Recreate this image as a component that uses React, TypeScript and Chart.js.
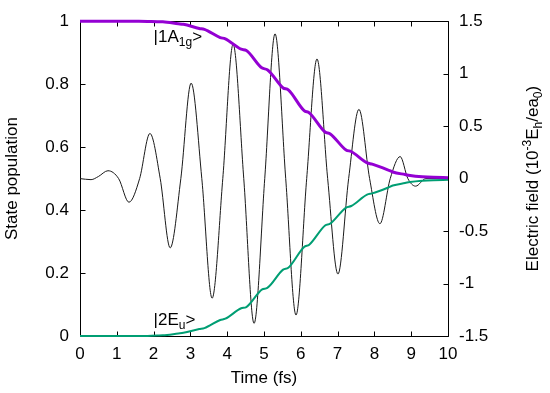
import React, { useEffect, useRef } from 'react';
import { Chart, registerables } from 'chart.js';

Chart.register(...registerables);

const timeTicks = [0, 1, 2, 3, 4, 5, 6, 7, 8, 9, 10];
const popTicks = [0, 0.2, 0.4, 0.6, 0.8, 1];
const fieldTicks = [-1.5, -1, -0.5, 0, 0.5, 1, 1.5];

// Electric field (10^-3 Eh/ea0), right axis
const fieldTime = [0, 0.3, 0.5, 0.76, 1.05, 1.33, 1.62, 1.9, 2.18, 2.45, 2.74, 3.02, 3.31, 3.59, 3.88, 4.16, 4.45, 4.73, 5.02, 5.3, 5.59, 5.87, 6.16, 6.44, 6.73, 7.01, 7.3, 7.58, 7.87, 8.15, 8.43, 8.7, 8.91, 9.12, 9.4, 9.7, 10];
const fieldValue = [0, -0.01, 0.02, 0.075, 0, -0.225, 0, 0.43, 0, -0.66, 0, 0.91, 0, -1.14, 0, 1.28, 0, -1.38, 0, 1.38, 0, -1.3, 0, 1.14, 0, -0.91, 0, 0.66, 0, -0.43, 0, 0.21, 0, -0.072, 0, 0, 0];

// |1A1g> population
const groundTime = [0, 1.6, 2.1, 2.25, 2.67, 2.81, 3.24, 3.38, 3.81, 3.95, 4.38, 4.52, 4.95, 5.09, 5.52, 5.66, 6.09, 6.23, 6.66, 6.8, 7.23, 7.37, 7.8, 7.94, 8.36, 8.5, 8.83, 8.97, 9.3, 9.6, 10];
const groundPop = [1, 1, 0.9985, 0.998, 0.992, 0.99, 0.977, 0.974, 0.948, 0.944, 0.911, 0.907, 0.851, 0.846, 0.788, 0.782, 0.716, 0.709, 0.648, 0.642, 0.591, 0.586, 0.55, 0.546, 0.528, 0.521, 0.513, 0.51, 0.506, 0.504, 0.503];

// |2Eu> population
const excitedTime = [0, 1.6, 2.1, 2.25, 2.67, 2.81, 3.24, 3.38, 3.81, 3.95, 4.38, 4.52, 4.95, 5.09, 5.52, 5.66, 6.09, 6.23, 6.66, 6.8, 7.23, 7.37, 7.8, 7.94, 8.36, 8.5, 8.83, 8.97, 9.3, 9.6, 10];
const excitedPop = [0, 0, 0.0015, 0.002, 0.008, 0.01, 0.022, 0.025, 0.051, 0.055, 0.088, 0.092, 0.148, 0.153, 0.211, 0.217, 0.283, 0.29, 0.351, 0.357, 0.408, 0.413, 0.449, 0.453, 0.471, 0.478, 0.486, 0.489, 0.493, 0.495, 0.496];

const FAMILY = '"Liberation Sans", Arial, Helvetica, sans-serif';
const FS = 17;
const SUB = 12;

type Part = { t: string; size: number; dy: number };

function richWidth(ctx: CanvasRenderingContext2D, parts: Part[]) {
  let w = 0;
  for (const p of parts) {
    ctx.font = `${p.size}px ${FAMILY}`;
    w += ctx.measureText(p.t).width;
  }
  return w;
}

function drawRich(ctx: CanvasRenderingContext2D, parts: Part[], x: number, y: number) {
  let cx = x;
  ctx.textBaseline = 'alphabetic';
  ctx.textAlign = 'left';
  for (const p of parts) {
    ctx.font = `${p.size}px ${FAMILY}`;
    ctx.fillText(p.t, cx, y + p.dy);
    cx += ctx.measureText(p.t).width;
  }
}

const frameBelow = {
  id: 'frameBelow',
  beforeDatasetsDraw(chart: any) {
    const { ctx, chartArea, scales } = chart;
    const { left, right, top, bottom } = chartArea;
    ctx.save();
    ctx.strokeStyle = '#000';
    ctx.lineWidth = 1;
    ctx.beginPath();
    const l = Math.round(left) + 0.5;
    const r = Math.round(right) + 0.5;
    const t = Math.round(top) + 0.5;
    const b = Math.round(bottom) + 0.5;
    ctx.rect(l, t, r - l, b - t);
    const L = 5;
    for (const v of timeTicks) {
      const x = Math.round(scales.x.getPixelForValue(v)) + 0.5;
      ctx.moveTo(x, b);
      ctx.lineTo(x, b - L);
      ctx.moveTo(x, t);
      ctx.lineTo(x, t + L);
    }
    for (const v of popTicks) {
      const y = Math.round(scales.y.getPixelForValue(v)) + 0.5;
      ctx.moveTo(l, y);
      ctx.lineTo(l + L, y);
    }
    for (const v of fieldTicks) {
      const y = Math.round(scales.y2.getPixelForValue(v)) + 0.5;
      ctx.moveTo(r, y);
      ctx.lineTo(r - L, y);
    }
    ctx.stroke();
    ctx.restore();
  },
  afterDraw(chart: any) {
    const { ctx, chartArea, scales } = chart;
    ctx.save();
    ctx.fillStyle = '#000';
    // state labels
    const gx = scales.x.getPixelForValue(2.0);
    const gy = scales.y.getPixelForValue(0.935);
    drawRich(ctx, [
      { t: '|1A', size: FS, dy: 0 },
      { t: '1g', size: SUB, dy: 4 },
      { t: '>', size: FS, dy: 0 },
    ], gx, gy);
    const ey = scales.y.getPixelForValue(0.034);
    drawRich(ctx, [
      { t: '|2E', size: FS, dy: 0 },
      { t: 'u', size: SUB, dy: 4 },
      { t: '>', size: FS, dy: 0 },
    ], gx, ey);
    // right axis title
    const parts: Part[] = [
      { t: 'Electric field (10', size: FS, dy: 0 },
      { t: '-3', size: SUB, dy: -7 },
      { t: 'E', size: FS, dy: 0 },
      { t: 'h', size: SUB, dy: 4 },
      { t: '/ea', size: FS, dy: 0 },
      { t: '0', size: SUB, dy: 4 },
      { t: ')', size: FS, dy: 0 },
    ];
    const w = richWidth(ctx, parts);
    const cy = (chartArea.top + chartArea.bottom) / 2;
    ctx.translate(538, cy);
    ctx.rotate(-Math.PI / 2);
    drawRich(ctx, parts, -w / 2, 0);
    ctx.restore();
  },
};

export default function App() {
  const ref = useRef<HTMLCanvasElement>(null);
  useEffect(() => {
    document.body.style.margin = '0';
    const canvas = ref.current!;
    const tickFont = { family: FAMILY, size: FS };
    const noGrid = { display: false, drawTicks: false, tickLength: 0 };
    const chart = new Chart(canvas, {
      type: 'line',
      data: {
        datasets: [
          {
            label: 'Electric field',
            data: fieldTime.map((t, i) => ({ x: t, y: fieldValue[i] })),
            yAxisID: 'y2',
            borderColor: '#1a1a1a',
            borderWidth: 1,
            pointRadius: 0,
            cubicInterpolationMode: 'monotone',
            fill: false,
            order: 3,
          },
          {
            label: '|1A1g>',
            data: groundTime.map((t, i) => ({ x: t, y: groundPop[i] })),
            yAxisID: 'y',
            borderColor: '#9400d3',
            borderWidth: 3,
            pointRadius: 0,
            cubicInterpolationMode: 'monotone',
            fill: false,
            clip: 6,
            order: 1,
          },
          {
            label: '|2Eu>',
            data: excitedTime.map((t, i) => ({ x: t, y: excitedPop[i] })),
            yAxisID: 'y',
            borderColor: '#009e73',
            borderWidth: 2,
            pointRadius: 0,
            cubicInterpolationMode: 'monotone',
            fill: false,
            clip: 6,
            order: 2,
          },
        ],
      } as any,
      options: {
        responsive: false,
        animation: false,
        events: [],
        layout: { padding: { top: 14, left: 0, right: 0, bottom: 0 } },
        plugins: { legend: { display: false }, tooltip: { enabled: false } },
        scales: {
          x: {
            type: 'linear',
            min: 0,
            max: 10,
            afterBuildTicks: (s: any) => { s.ticks = timeTicks.map((v) => ({ value: v })); },
            afterFit: (s: any) => { s.height = 57; },
            grid: noGrid,
            border: { display: false },
            ticks: { color: '#000', font: tickFont, padding: 8, maxRotation: 0, autoSkip: false, callback: (v: any) => String(v) },
            title: { display: true, text: 'Time (fs)', color: '#000', font: tickFont, padding: { top: 0, bottom: 4 } },
          },
          y: {
            type: 'linear',
            position: 'left',
            min: 0,
            max: 1,
            afterBuildTicks: (s: any) => { s.ticks = popTicks.map((v) => ({ value: v })); },
            afterFit: (s: any) => { s.width = 80; },
            grid: noGrid,
            border: { display: false },
            ticks: { color: '#000', font: tickFont, padding: 11, autoSkip: false, callback: (v: any) => String(v) },
            title: { display: true, text: 'State population', color: '#000', font: tickFont, padding: { top: 2, bottom: 0 } },
          },
          y2: {
            type: 'linear',
            position: 'right',
            min: -1.5,
            max: 1.5,
            afterBuildTicks: (s: any) => { s.ticks = fieldTicks.map((v) => ({ value: v })); },
            afterFit: (s: any) => { s.width = 102; },
            grid: noGrid,
            border: { display: false },
            ticks: { color: '#000', font: tickFont, padding: 11, autoSkip: false, callback: (v: any) => String(v) },
          },
        },
      } as any,
      plugins: [frameBelow],
    });
    return () => chart.destroy();
  }, []);
  return (
    <div style={{ width: 550, height: 393, background: '#fff' }}>
      <canvas ref={ref} width={550} height={393} style={{ display: 'block' }} />
    </div>
  );
}
